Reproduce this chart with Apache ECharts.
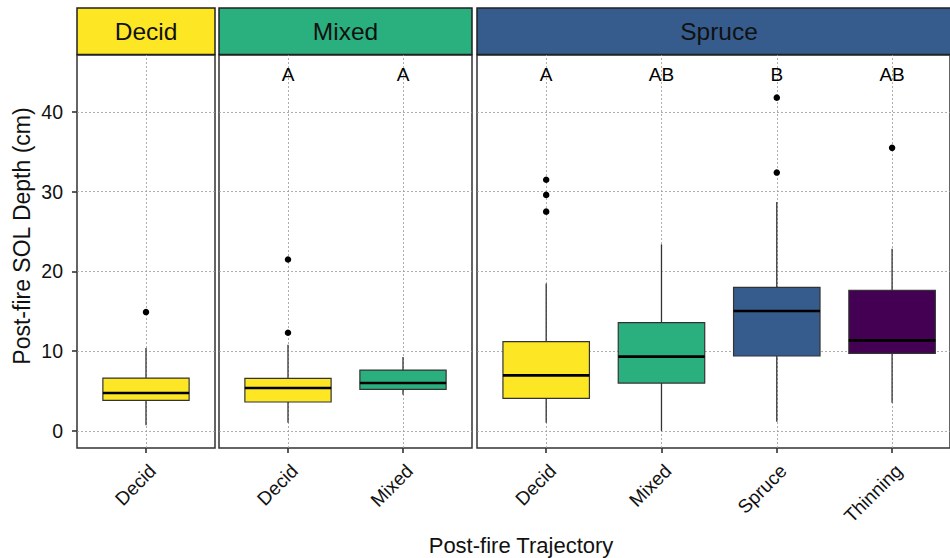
<!DOCTYPE html>
<html><head><meta charset="utf-8">
<script src="https://cdn.jsdelivr.net/npm/echarts@6/dist/echarts.min.js"></script>
<style>html,body{margin:0;padding:0;background:#fff}#c{width:950px;height:558px}</style>
</head><body><div id="c"></div>
<script>
// ---------------- data ----------------
const facetNames = ['Decid', 'Mixed', 'Spruce'];
const catsDecid = ['Decid'];
const catsMixed = ['Decid', 'Mixed'];
const catsSpruce = ['Decid', 'Mixed', 'Spruce', 'Thinning'];
// [lower whisker, Q1, median, Q3, upper whisker]
const boxDecid = [[0.7, 3.83, 4.75, 6.62, 10.4]];
const boxMixed = [[1.03, 3.62, 5.37, 6.59, 10.8], [4.54, 5.2, 6.0, 7.63, 9.26]];
const boxSpruce = [[1.03, 4.08, 6.96, 11.19, 18.5], [0.0, 6.0, 9.31, 13.58, 23.4],
                   [1.15, 9.39, 15.03, 18.0, 28.7], [3.54, 9.72, 11.35, 17.63, 22.85]];
const outDecid = [['Decid', 14.9]];
const outMixed = [['Decid', 21.5], ['Decid', 12.3]];
const outSpruce = [['Decid', 31.5], ['Decid', 29.6], ['Decid', 27.5], ['Spruce', 32.4], ['Spruce', 41.8], ['Thinning', 35.5]];
const lettersDecid = [];
const lettersMixed = ['A', 'A'];
const lettersSpruce = ['A', 'AB', 'B', 'AB'];
const letterY = 44.7;
const yTicks = [0, 10, 20, 30, 40];
const yMin = -2.15, yMax = 47.15;
const colors = { Decid: '#FDE725', Mixed: '#2AAF7F', Spruce: '#365C8D', Thinning: '#440154' };

// ---------------- layout ----------------
const FONT = "'Liberation Sans', Arial, Helvetica, sans-serif";
const panelLeft = [77, 219, 477];
const panelWidth = [138, 253, 484];
const unit = [115, 115, 115.3];
const gTop = 55, gHeight = 393;
const facetCats = [catsDecid, catsMixed, catsSpruce];
const facetBoxes = [boxDecid, boxMixed, boxSpruce];
const facetOut = [outDecid, outMixed, outSpruce];
const facetLetters = [lettersDecid, lettersMixed, lettersSpruce];

const grid = [], xAxis = [], yAxis = [], series = [];
facetNames.forEach((fname, k) => {
  const cats = facetCats[k];
  grid.push({ left: panelLeft[k], top: gTop, width: panelWidth[k], height: gHeight,
    show: true, borderColor: '#333', borderWidth: 1.5, backgroundColor: 'transparent', z: 0 });
  grid.push({ left: panelLeft[k] + 0.1 * unit[k], top: gTop, width: cats.length * unit[k], height: gHeight, z: 0 });
  const fi = 2 * k, di = 2 * k + 1;
  xAxis.push({ gridIndex: fi, type: 'value', min: 0, max: 1, show: false });
  xAxis.push({ gridIndex: di, type: 'category', data: cats, boundaryGap: true, position: 'bottom',
    axisLine: { show: false, onZero: false },
    axisTick: { show: true, alignWithLabel: true, length: 5, lineStyle: { color: '#333', width: 1.6 } },
    axisLabel: { rotate: 45, fontSize: 19, color: '#111', fontFamily: FONT, margin: 13, verticalAlign: 'top', align: 'right' },
    splitLine: { show: false } });
  yAxis.push({ gridIndex: fi, type: 'value', min: yMin, max: yMax,
    axisLine: { show: false, onZero: false },
    axisTick: { show: k === 0, length: 5, customValues: yTicks, lineStyle: { color: '#333', width: 1.6 } },
    axisLabel: { show: k === 0, customValues: yTicks, fontSize: 19.5, color: '#111', fontFamily: FONT, margin: 14,
      formatter: v => (Math.abs(v % 10) < 1e-9 ? String(v) : '') },
    splitLine: { show: true, lineStyle: { color: '#9a9a9a', width: 0.8, type: [2, 2] } } });
  yAxis.push({ gridIndex: di, type: 'value', min: yMin, max: yMax, show: false, splitLine: { show: false } });

  // vertical grid lines at category centres + outliers
  series.push({ type: 'scatter', xAxisIndex: di, yAxisIndex: di, z: 2, silent: true,
    data: facetOut[k], symbol: 'circle', symbolSize: 6.5, itemStyle: { color: '#000', opacity: 1 },
    markLine: { silent: true, symbol: 'none', z: 1, label: { show: false },
      lineStyle: { color: '#9a9a9a', width: 0.8, type: [2, 2], opacity: 1 },
      data: cats.map(c => ({ xAxis: c })) } });

  // boxes
  const boxes = facetBoxes[k];
  series.push({ type: 'custom', xAxisIndex: di, yAxisIndex: di, z: 10, silent: true,
    encode: { x: 0, y: [1, 2, 3, 4, 5] },
    data: cats.map((c, i) => [c].concat(boxes[i])),
    renderItem: (params, api) => {
      const x = api.value(0);
      const lo = api.coord([x, api.value(1)]);
      const q1 = api.coord([x, api.value(2)]);
      const md = api.coord([x, api.value(3)]);
      const q3 = api.coord([x, api.value(4)]);
      const hi = api.coord([x, api.value(5)]);
      const bw = api.size([1, 0])[0] * 0.75;
      const cx = q1[0];
      const col = colors[cats[params.dataIndex]];
      return { type: 'group', children: [
        { type: 'line', shape: { x1: cx, y1: hi[1], x2: cx, y2: q3[1] }, style: { stroke: '#333', lineWidth: 1.3 } },
        { type: 'line', shape: { x1: cx, y1: q1[1], x2: cx, y2: lo[1] }, style: { stroke: '#333', lineWidth: 1.3 } },
        { type: 'rect', shape: { x: cx - bw / 2, y: q3[1], width: bw, height: q1[1] - q3[1] },
          style: { fill: col, stroke: '#333', lineWidth: 1.2 } },
        { type: 'line', shape: { x1: cx - bw / 2, y1: md[1], x2: cx + bw / 2, y2: md[1] }, style: { stroke: '#000', lineWidth: 2.6 } }
      ] };
    } });

  // significance letters
  const letters = facetLetters[k];
  if (letters.length) {
    series.push({ type: 'scatter', xAxisIndex: di, yAxisIndex: di, z: 11, silent: true,
      data: cats.map(c => [c, letterY]), symbolSize: 1, itemStyle: { color: 'rgba(0,0,0,0)', opacity: 1 },
      label: { show: true, position: 'inside', formatter: p => letters[p.dataIndex], opacity: 1,
        fontSize: 19, color: '#000', fontFamily: FONT } });
  }
});

const graphic = facetNames.map((n, k) => ({
  type: 'group', children: [
    { type: 'rect', shape: { x: panelLeft[k], y: 8, width: panelWidth[k], height: 46.5 },
      style: { fill: colors[n], stroke: '#222', lineWidth: 1.5 } },
    { type: 'text', x: panelLeft[k] + panelWidth[k] / 2, y: 31.5,
      style: { text: n, fill: '#111', fontSize: 24.5, fontFamily: FONT, align: 'center', verticalAlign: 'middle' } }
  ] }));
graphic.push({ type: 'text', x: 521, y: 545,
  style: { text: 'Post-fire Trajectory', fill: '#111', fontSize: 22, fontFamily: FONT, align: 'center', verticalAlign: 'middle' } });
graphic.push({ type: 'text', x: 22, y: 236, rotation: Math.PI / 2,
  style: { text: 'Post-fire SOL Depth (cm)', fill: '#111', fontSize: 23, fontFamily: FONT, align: 'center', verticalAlign: 'middle' } });

const chart = echarts.init(document.getElementById('c'), null, { renderer: 'svg' });
chart.setOption({ animation: false, backgroundColor: '#fff', grid, xAxis, yAxis, series, graphic });
</script>
</body></html>
